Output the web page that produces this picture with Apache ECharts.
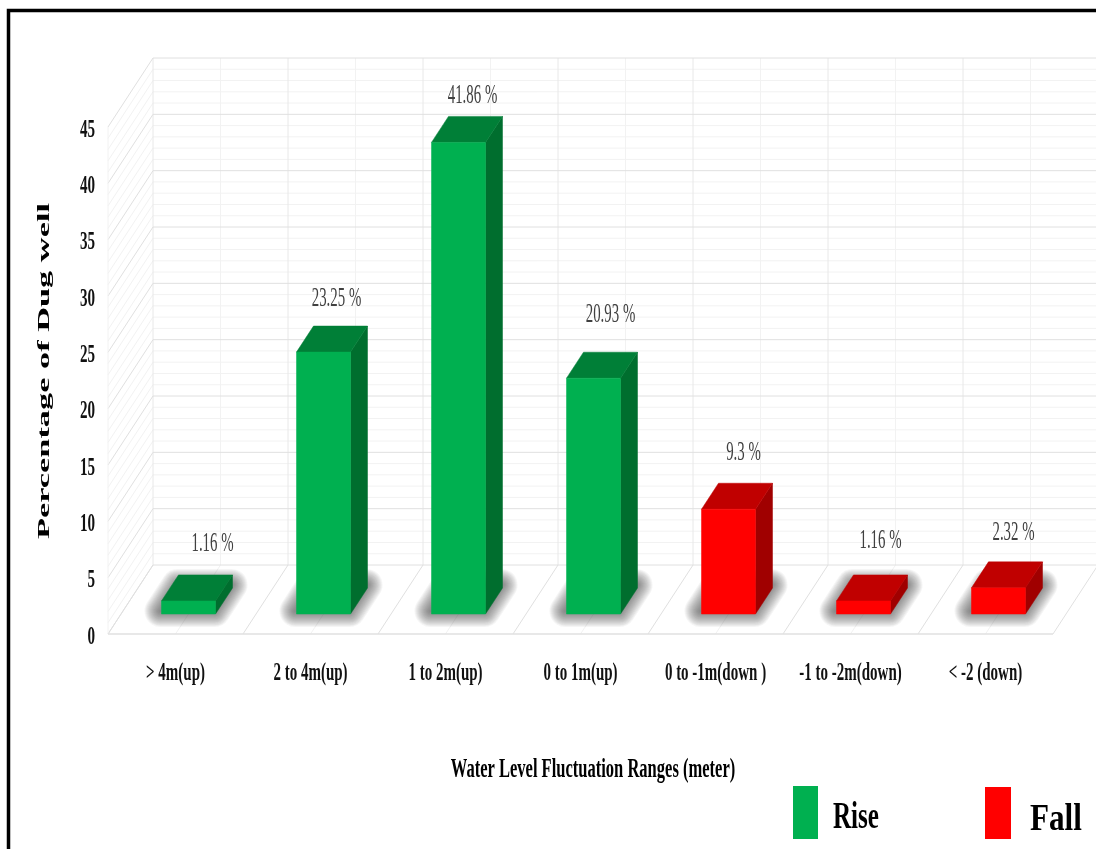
<!DOCTYPE html>
<html>
<head>
<meta charset="utf-8">
<style>html,body{margin:0;padding:0;background:#fff}#c{width:1096px;height:849px}</style>
<script src="https://cdn.jsdelivr.net/npm/echarts@6/dist/echarts.min.js"></script>
</head>
<body>
<div id="c"></div>
<script>
const categories = ['> 4m(up)','2 to 4m(up)','1 to 2m(up)','0 to 1m(up)','0 to -1m(down )','-1 to -2m(down)','< -2 (down)'];
const wellPercent = [1.16,23.25,41.86,20.93,9.3,1.16,2.32];
const valueLabels = ['1.16 %','23.25 %','41.86 %','20.93 %','9.3 %','1.16 %','2.32 %'];
const trend = ['Rise','Rise','Rise','Rise','Fall','Fall','Fall'];
const yTicks = [0,5,10,15,20,25,30,35,40,45];
const yMax = 45, yStep = 5, yMinorStep = 1;

const labelNudgeX = [8,-3,-2,1,-1,1,-1];
const labelNudgeY = [0,4,11,-6,1,-3,2];
const COLORS = {
  Rise:{front:'#00B050',top:'#007F37',side:'#006E2E'},
  Fall:{front:'#FF0000',top:'#C00000',side:'#A00000'}
};
const DEPTH = [45,-69], BAR_OFF = [13,-20], BAR_DEPTH = [17,-26], BAR_W = 0.4;
const MAJOR = '#E0E0E0', MAJOR_V = '#E8E8E8', MINOR = '#F2F2F2';
const SERIF = '"Liberation Serif"';
const SHADOW_LAYERS = [1,2,3,4,5,6,7,8,9,10,11,12,13,14,15,16];

function txt(text,x,y,font,fill,sx,sy,align,rot){
  return {type:'text',x:x,y:y,scaleX:sx,scaleY:sy,rotation:rot||0,silent:true,
    style:{text:text,font:font,fill:fill,align:align||'center',textAlign:align||'center',
      verticalAlign:'middle',textVerticalAlign:'middle'}};
}
function seg(a,b,color,w){
  return {type:'line',silent:true,shape:{x1:a[0],y1:a[1],x2:b[0],y2:b[1]},style:{stroke:color,lineWidth:w||1,fill:null}};
}
function poly(pts,fill){
  return {type:'polygon',silent:true,shape:{points:pts},style:{fill:fill,stroke:fill,lineWidth:0.5}};
}

function renderWalls(params,api){
  const band = api.size([1,0])[0];
  const kids = [];
  const x0 = api.coord([0,0])[0]-band/2;
  const n = categories.length;
  const x1 = x0+band*n;
  const y0 = api.coord([0,0])[1], yT = api.coord([0,yMax])[1];
  for(let v=0;v<=yMax;v+=yMinorStep){
    if(v%yStep===0) continue;
    const y = api.coord([0,v])[1];
    kids.push(seg([x0+DEPTH[0],y+DEPTH[1]],[x1+DEPTH[0],y+DEPTH[1]],MINOR));
    kids.push(seg([x0,y],[x0+DEPTH[0],y+DEPTH[1]],MINOR));
  }
  for(let i=0;i<n;i++){
    const xm = x0+band*(i+0.5);
    kids.push(seg([xm+DEPTH[0],y0+DEPTH[1]],[xm+DEPTH[0],yT+DEPTH[1]],MINOR));
    kids.push(seg([xm,y0],[xm+DEPTH[0],y0+DEPTH[1]],MINOR));
  }
  for(let i=0;i<=n;i++){
    const xm = x0+band*i;
    kids.push(seg([xm+DEPTH[0],y0+DEPTH[1]],[xm+DEPTH[0],yT+DEPTH[1]],MAJOR_V));
    kids.push(seg([xm,y0],[xm+DEPTH[0],y0+DEPTH[1]],MAJOR));
  }
  yTicks.forEach(function(v){
    const y = api.coord([0,v])[1];
    kids.push(seg([x0+DEPTH[0],y+DEPTH[1]],[x1+DEPTH[0],y+DEPTH[1]],MAJOR));
    kids.push(seg([x0,y],[x0+DEPTH[0],y+DEPTH[1]],MAJOR));
  });
  kids.push(seg([x0,y0],[x0,yT],MINOR));
  kids.push(seg([x0,y0],[x1,y0],MAJOR,1.5));
  return {type:'group',children:kids};
}

function renderBar(params,api){
  const i = api.value(0), v = api.value(1);
  const band = api.size([1,0])[0], w = band*BAR_W;
  const base = api.coord([i,0]), top = api.coord([i,v]);
  const c = COLORS[trend[i]];
  const L = base[0]+BAR_OFF[0]-w/2, R = L+w;
  const B = base[1]+BAR_OFF[1], T = top[1]+BAR_OFF[1];
  const dx = BAR_DEPTH[0], dy = BAR_DEPTH[1];
  const kids = [];
  const sx = -1, sy = -3;
  SHADOW_LAYERS.slice().reverse().forEach(function(k){
    kids.push({type:'polygon',silent:true,
      shape:{points:[[L+sx,B+sy],[R+sx,B+sy],[R+dx+sx,B+dy+sy],[L+dx+sx,B+dy+sy]]},
      style:{fill:null,stroke:'rgba(50,50,50,0.05)',lineWidth:k*2,lineJoin:'round'}});
  });
  kids.push(poly([[R,B],[R+dx,B+dy],[R+dx,T+dy],[R,T]],c.side));
  kids.push(poly([[L,T],[R,T],[R+dx,T+dy],[L+dx,T+dy]],c.top));
  kids.push(poly([[L,B],[R,B],[R,T],[L,T]],c.front));
  kids.push(txt(valueLabels[i],L+w/2+16+labelNudgeX[i],T+dy-31+labelNudgeY[i],'27px '+SERIF,'#404040',0.55,1));
  return {type:'group',children:kids};
}

function renderCatLabel(params,api){
  const i = api.value(0);
  const p = api.coord([i,0]);
  return txt(categories[i],p[0],p[1]+40,'bold 25px '+SERIF,'#111',0.6,1);
}
function renderYLabel(params,api){
  const v = api.value(0);
  const band = api.size([1,0])[0];
  const p = api.coord([0,v]);
  return txt(String(v),p[0]-band/2-13,p[1]+3,'bold 26px '+SERIF,'#111',0.58,1,'right');
}

const chart = echarts.init(document.getElementById('c'),null,{renderer:'canvas'});
chart.setOption({
  backgroundColor:'#fff',
  animation:false,
  grid:{left:108,width:945,top:127,height:507,containLabel:false},
  xAxis:{type:'category',data:categories,axisLine:{show:false},axisTick:{show:false},axisLabel:{show:false},splitLine:{show:false}},
  yAxis:{type:'value',min:0,max:yMax,interval:yStep,axisLine:{show:false},axisTick:{show:false},axisLabel:{show:false},splitLine:{show:false}},
  series:[
    {type:'custom',name:'walls',clip:false,z:1,coordinateSystem:'cartesian2d',data:[[0,0]],renderItem:renderWalls,silent:true},
    {type:'custom',name:'Percentage of Dug well',clip:false,z:3,coordinateSystem:'cartesian2d',
      data:wellPercent.map(function(v,i){return [i,v];}),encode:{x:0,y:1},renderItem:renderBar,silent:true},
    {type:'custom',name:'categoryLabels',clip:false,z:4,coordinateSystem:'cartesian2d',
      data:categories.map(function(c,i){return [i];}),renderItem:renderCatLabel,silent:true,encode:{x:0}},
    {type:'custom',name:'valueTicks',clip:false,z:4,coordinateSystem:'cartesian2d',
      data:yTicks.map(function(v){return [v];}),renderItem:renderYLabel,silent:true,encode:{y:0}}
  ],
  graphic:[
    {type:'rect',z:10,silent:true,shape:{x:8.5,y:10.5,width:1200,height:1000},style:{fill:null,stroke:'#000',lineWidth:3.5}},
    {type:'text',z:10,silent:true,x:45,y:371,rotation:Math.PI/2,scaleX:2.02,scaleY:1,
      style:{text:'Percentage of Dug well',font:'bold 17px '+SERIF,fill:'#000',align:'center',textAlign:'center',verticalAlign:'middle',textVerticalAlign:'middle'}},
    {type:'text',z:10,silent:true,x:593,y:770,scaleX:0.59,scaleY:1,
      style:{text:'Water Level Fluctuation Ranges (meter)',font:'bold 28px '+SERIF,fill:'#000',align:'center',textAlign:'center',verticalAlign:'middle',textVerticalAlign:'middle'}},
    {type:'rect',z:10,silent:true,shape:{x:793,y:786,width:25,height:53},style:{fill:'#00B050'}},
    {type:'text',z:10,silent:true,x:833,y:818,scaleX:0.66,scaleY:1,
      style:{text:'Rise',font:'bold 38px '+SERIF,fill:'#000',align:'left',textAlign:'left',verticalAlign:'middle',textVerticalAlign:'middle'}},
    {type:'rect',z:10,silent:true,shape:{x:985,y:787,width:26,height:52},style:{fill:'#FF0000'}},
    {type:'text',z:10,silent:true,x:1030,y:820,scaleX:0.82,scaleY:1,
      style:{text:'Fall',font:'bold 38px '+SERIF,fill:'#000',align:'left',textAlign:'left',verticalAlign:'middle',textVerticalAlign:'middle'}}
  ]
});
</script>
</body>
</html>
